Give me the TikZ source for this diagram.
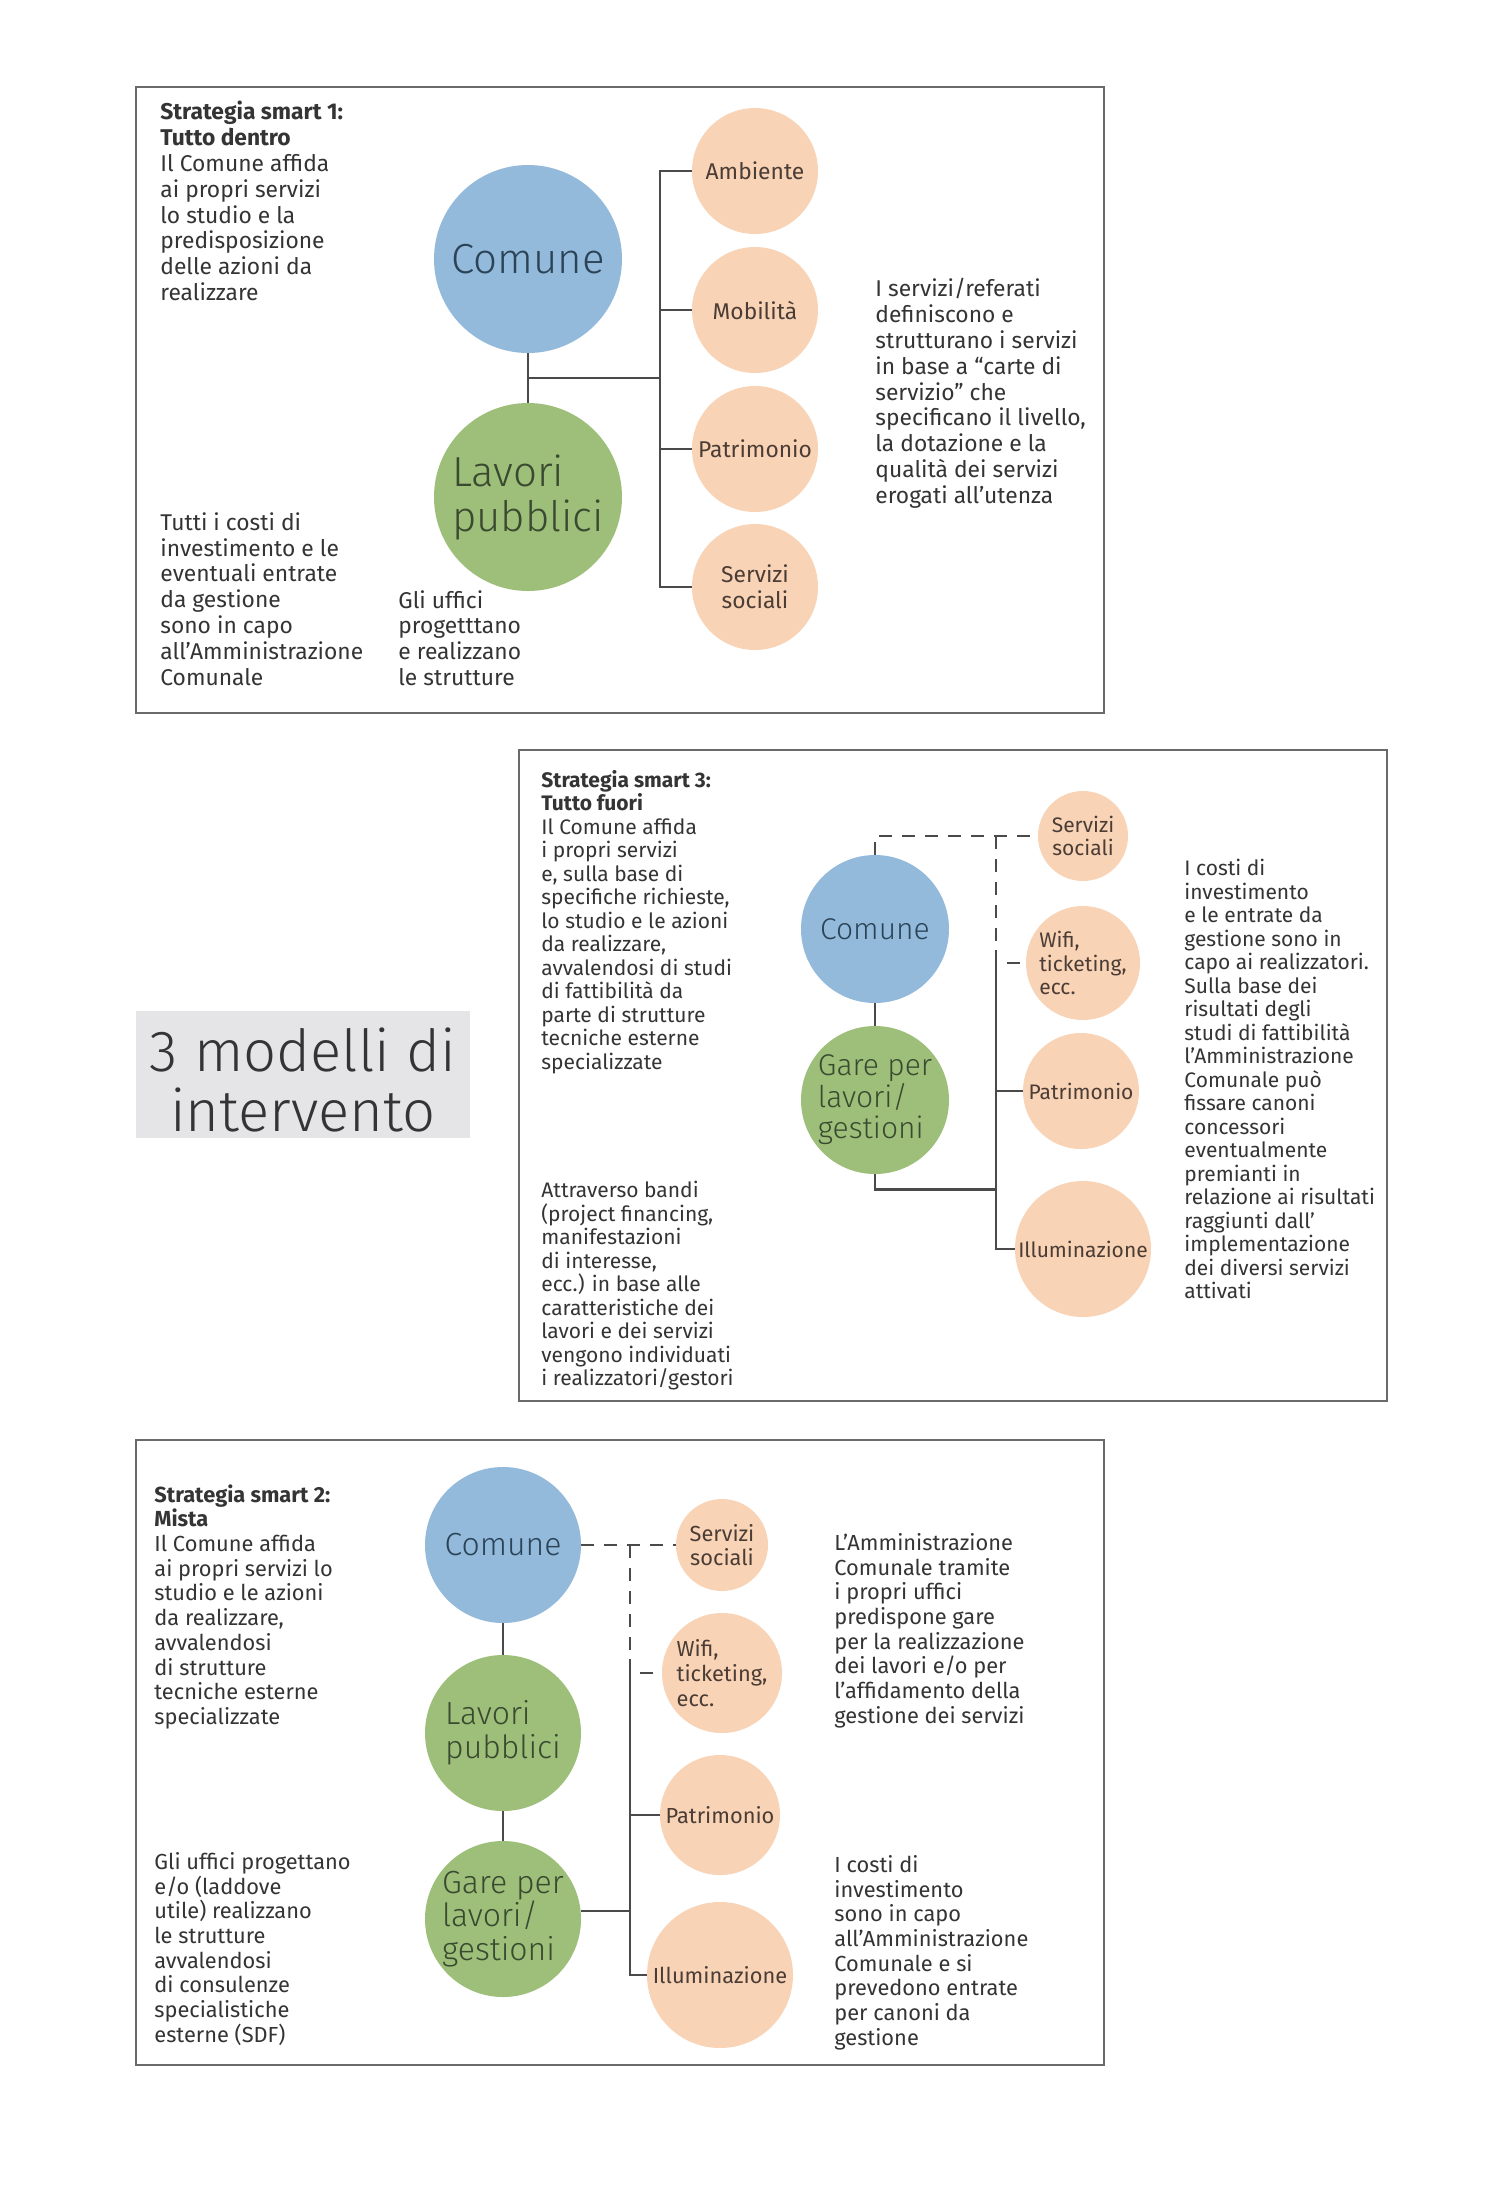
\documentclass[tikz,border=0pt]{standalone}
\usepackage{fontspec}
\setmainfont{Fira Sans}
\newfontfamily\lightfont{Fira Sans Light}
\usetikzlibrary{calc}
\definecolor{comblue}{HTML}{93BADB}
\definecolor{lpgreen}{HTML}{9DBF79}
\definecolor{servpeach}{HTML}{F8D3B6}
\definecolor{titlegrey}{HTML}{E5E5E8}
\definecolor{framegrey}{HTML}{6A6A6A}
\definecolor{linegrey}{HTML}{4A4A4A}
\definecolor{inkgrey}{HTML}{343434}
\definecolor{hubtext}{HTML}{2B4357}
\definecolor{workstext}{HTML}{3A4A30}
\definecolor{servtext}{HTML}{4B3D35}
\newcommand\circfontone{\lightfont\fontsize{21}{22.5}\selectfont}
\newcommand\circfonttwo{\lightfont\fontsize{16}{16.8}\selectfont}
\newcommand\circfontthree{\lightfont\fontsize{15}{15.8}\selectfont}
\newcommand\txtfontone{\fontsize{11.4}{12.9}\selectfont}
\newcommand\txtfonttwo{\fontsize{10.9}{12.35}\selectfont}
\newcommand\txtfontthree{\fontsize{10.5}{11.75}\selectfont}
\begin{document}
\begin{tikzpicture}[x=0.5pt,y=-0.5pt,
  panel/.style={draw=framegrey, line width=0.8pt},
  txt/.style={anchor=north west, align=left, inner sep=0pt, text=inkgrey},
  hub/.style={circle, inner sep=0pt, fill=comblue, text=hubtext},
  works/.style={circle, inner sep=0pt, fill=lpgreen, text=workstext, align=left},
  serv/.style={circle, inner sep=0pt, fill=servpeach, text=servtext, align=left},
  link/.style={draw=linegrey, line width=1.3pt},
  dlink/.style={link, dash pattern=on 6.5pt off 5pt}]
\useasboundingbox[fill=white] (0,0) rectangle (1504,2192);

% strategia smart 1
\draw[panel] (136,87) rectangle (1104,713);
\node[txt, font=\txtfontone] (p1left) at (160,101) {\textbf{Strategia smart 1:}\\\textbf{Tutto dentro}\\Il Comune affida\\ai propri servizi\\lo studio e la\\predisposizione\\delle azioni da\\realizzare};
\node[txt, font=\txtfontone] (p1costi) at (160,512) {Tutti i costi di\\investimento e le\\eventuali entrate\\da gestione\\sono in capo\\all'Amministrazione\\Comunale};
\node[txt, font=\txtfontone] (p1uffici) at (398,590) {Gli uffici\\progetttano\\e realizzano\\le strutture};
\node[txt, font=\txtfontone] (p1right) at (875,278) {I servizi/referati\\definiscono e\\strutturano i servizi\\in base a ``carte di\\servizio'' che\\specificano il livello,\\la dotazione e la\\qualità dei servizi\\erogati all'utenza};
\node[hub, minimum size=94pt, font=\circfontone] (com1) at (528,259) {Comune};
\node[works, minimum size=94pt, font=\circfontone] (lav1) at (528,497) {Lavori\\pubblici};
\node[serv, minimum size=63pt, font=\txtfontone] (amb1) at (755,171) {Ambiente};
\node[serv, minimum size=63pt, font=\txtfontone] (mob1) at (755,310) {Mobilità};
\node[serv, minimum size=63pt, font=\txtfontone] (pat1) at (755,449) {Patrimonio};
\node[serv, minimum size=63pt, font=\txtfontone, align=center] (soc1) at (755,587) {Servizi\\sociali};
\coordinate (t1) at (660,171);
\coordinate (m1) at ($(com1.south)!.5!(lav1.north)$);
\draw[link] (com1.south) -- (lav1.north);
\draw[link] (m1) -- (m1 -| t1);
\draw[link] (amb1.west) -- (t1) |- (soc1.west);
\foreach \n in {mob1,pat1} \draw[link] (\n.west) -- (\n.west -| t1);

% titolo
\fill[titlegrey] (136,1011) rectangle (470,1138);
\node[align=center, inner sep=0pt, text=inkgrey, font=\lightfont\fontsize{29}{30}\selectfont] (titolo) at (303,1080) {3 modelli di\\intervento};

% strategia smart 3
\draw[panel] (519,750) rectangle (1387,1401);
\node[txt, font=\txtfontthree] (p3left) at (541,770) {\textbf{Strategia smart 3:}\\\textbf{Tutto fuori}\\Il Comune affida\\i propri servizi\\e, sulla base di\\specifiche richieste,\\lo studio e le azioni\\da realizzare,\\avvalendosi di studi\\di fattibilità da\\parte di strutture\\tecniche esterne\\specializzate};
\node[txt, font=\txtfontthree] (p3bandi) at (541,1181) {Attraverso bandi\\(project financing,\\manifestazioni\\di interesse,\\ecc.) in base alle\\caratteristiche dei\\lavori e dei servizi\\vengono individuati\\i realizzatori/gestori};
\node[txt, font=\txtfontthree] (p3right) at (1184,859) {I costi di\\investimento\\e le entrate da\\gestione sono in\\capo ai realizzatori.\\Sulla base dei\\risultati degli\\studi di fattibilità\\l'Amministrazione\\Comunale può\\fissare canoni\\concessori\\eventualmente\\premianti in\\relazione ai risultati\\raggiunti dall'\\implementazione\\dei diversi servizi\\attivati};
\node[hub, minimum size=74pt, font=\circfontthree] (com3) at (875,929) {Comune};
\node[works, minimum size=74pt, font=\circfontthree] (gar3) at (875,1100) {Gare per\\lavori/\\gestioni};
\node[serv, minimum size=45pt, font=\txtfontthree, align=center] (soc3) at (1083,836) {Servizi\\sociali};
\node[serv, minimum size=57pt, font=\txtfontthree] (wifi3) at (1083,963) {Wifi,\\ticketing,\\ecc.};
\node[serv, minimum size=58pt, font=\txtfontthree] (pat3) at (1081,1091) {Patrimonio};
\node[serv, minimum size=68pt, font=\txtfontthree] (ill3) at (1083,1249) {Illuminazione};
\coordinate (t3) at (996,836);
\draw[link] (com3.south) -- (gar3.north);
\draw[dlink] (com3.north) |- (soc3.west);
\draw[dlink] (t3) |- (wifi3.west);
\draw[link] ($(t3 |- wifi3.west)+(0,-13)$) |- (ill3.west);
\draw[link] (pat3.west) -- (pat3.west -| t3);
\draw[link] (gar3.south) -- ++(0,15) coordinate (j3) -- (j3 -| t3);

% strategia smart 2
\draw[panel] (136,1440) rectangle (1104,2065);
\node[txt, font=\txtfonttwo] (p2left) at (154,1484) {\textbf{Strategia smart 2:}\\\textbf{Mista}\\Il Comune affida\\ai propri servizi lo\\studio e le azioni\\da realizzare,\\avvalendosi\\di strutture\\tecniche esterne\\specializzate};
\node[txt, font=\txtfonttwo] (p2uffici) at (154,1852) {Gli uffici progettano\\e/o (laddove\\utile) realizzano\\le strutture\\avvalendosi\\di consulenze\\specialistiche\\esterne (SDF)};
\node[txt, font=\txtfonttwo] (p2gare) at (834,1533) {L'Amministrazione\\Comunale tramite\\i propri uffici\\predispone gare\\per la realizzazione\\dei lavori e/o per\\l'affidamento della\\gestione dei servizi};
\node[txt, font=\txtfonttwo] (p2costi) at (834,1855) {I costi di\\investimento\\sono in capo\\all'Amministrazione\\Comunale e si\\prevedono entrate\\per canoni da\\gestione};
\node[hub, minimum size=78pt, font=\circfonttwo] (com2) at (503,1545) {Comune};
\node[works, minimum size=78pt, font=\circfonttwo] (lav2) at (503,1733) {Lavori\\pubblici};
\node[works, minimum size=78pt, font=\circfonttwo] (gar2) at (503,1919) {Gare per\\lavori/\\gestioni};
\node[serv, minimum size=46pt, font=\txtfonttwo, align=center] (soc2) at (722,1545) {Servizi\\sociali};
\node[serv, minimum size=60pt, font=\txtfonttwo] (wifi2) at (722,1673) {Wifi,\\ticketing,\\ecc.};
\node[serv, minimum size=60pt, font=\txtfonttwo] (pat2) at (720,1815) {Patrimonio};
\node[serv, minimum size=73pt, font=\txtfonttwo] (ill2) at (720,1975) {Illuminazione};
\coordinate (t2) at (630,1545);
\draw[link] (com2.south) -- (lav2.north);
\draw[link] (lav2.south) -- (gar2.north);
\draw[dlink] (com2.east) -- (soc2.west);
\draw[dlink] (t2) |- (wifi2.west);
\draw[link] ($(t2 |- wifi2.west)+(0,-14)$) |- (ill2.west);
\draw[link] (pat2.west) -- (pat2.west -| t2);
\draw[link] (gar2.6) -- (gar2.6 -| t2);
\end{tikzpicture}
\end{document}
